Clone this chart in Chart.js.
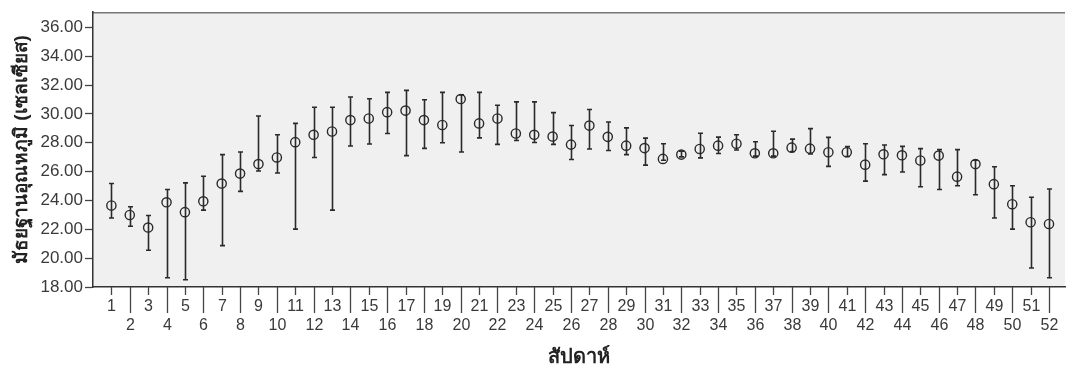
<!DOCTYPE html>
<html>
<head>
<meta charset="utf-8">
<script src="https://cdn.jsdelivr.net/npm/chart.js@4.4.1/dist/chart.umd.min.js"></script>
<style>
  html, body { margin: 0; padding: 0; background: #fff; }
  #wrap { position: relative; width: 1071px; height: 369px; }
</style>
</head>
<body>
<div id="wrap"><canvas id="myChart"></canvas></div>
<script>
// weekly median temperature with its range
const weeks = [1, 2, 3, 4, 5, 6, 7, 8, 9, 10, 11, 12, 13, 14, 15, 16, 17, 18, 19, 20, 21, 22, 23, 24, 25, 26,
  27, 28, 29, 30, 31, 32, 33, 34, 35, 36, 37, 38, 39, 40, 41, 42, 43, 44, 45, 46, 47, 48, 49, 50, 51, 52];

const medians = [23.65, 22.99, 22.12, 23.87, 23.19, 23.94, 25.17, 25.86, 26.52, 26.98, 28.04, 28.55, 28.78,
  29.57, 29.68, 30.12, 30.23, 29.57, 29.23, 31.03, 29.34, 29.68, 28.64, 28.55, 28.43, 27.87,
  29.19, 28.41, 27.80, 27.63, 26.88, 27.18, 27.57, 27.80, 27.93, 27.27, 27.27, 27.66, 27.59,
  27.34, 27.34, 26.48, 27.20, 27.13, 26.77, 27.11, 25.65, 26.52, 25.13, 23.74, 22.49, 22.37];

const upperValues = [25.17, 23.56, 22.96, 24.76, 25.22, 25.68, 27.18, 27.36, 29.85, 28.55, 29.34, 30.46, 30.46,
  31.17, 31.05, 31.49, 31.63, 30.98, 31.49, 31.32, 31.49, 30.60, 30.83, 30.83, 30.09, 29.20,
  30.30, 29.44, 29.03, 28.32, 27.93, 27.41, 28.66, 28.39, 28.55, 28.07, 28.80, 28.25, 28.98,
  28.37, 27.73, 27.93, 27.84, 27.75, 27.59, 27.52, 27.52, 26.79, 26.34, 25.02, 24.22, 24.79];

const lowerValues = [22.78, 22.21, 20.55, 18.64, 18.50, 23.33, 20.87, 24.63, 26.04, 25.90, 22.01, 26.98, 23.33,
  27.77, 27.91, 28.64, 27.11, 27.61, 28.00, 27.36, 28.34, 27.89, 28.16, 28.02, 27.89, 26.84,
  27.57, 27.46, 27.18, 26.45, 26.79, 27.02, 26.95, 27.25, 27.50, 27.07, 27.07, 27.39, 27.22,
  26.36, 27.05, 25.34, 25.79, 25.97, 24.95, 24.76, 25.02, 24.40, 22.78, 22.01, 19.32, 18.64];

const yMin = 18;
const yMax = 37.05;
const yStep = 2;

const yTitle = "มัธยฐานอุณหภูมิ (เซลเซียส)";
const xTitle = "สัปดาห์";

const fontFamily = "'Liberation Sans', Arial, 'Noto Sans', sans-serif";
const inkColor = "#3a3a3a";

// grey plot background and top border
const plotBackground = {
  id: "plotBackground",
  beforeDraw(chart) {
    const { ctx, chartArea } = chart;
    ctx.save();
    ctx.fillStyle = "#f0f0f0";
    ctx.fillRect(chartArea.left, chartArea.top, chartArea.right - chartArea.left, chartArea.bottom - chartArea.top);
    ctx.strokeStyle = "#777";
    ctx.lineWidth = 1.5;
    ctx.beginPath();
    ctx.moveTo(chartArea.left, chartArea.top + 0.5);
    ctx.lineTo(chartArea.right, chartArea.top + 0.5);
    ctx.stroke();
    ctx.restore();
  }
};

// vertical range bars with small caps
const errorBars = {
  id: "errorBars",
  beforeDatasetsDraw(chart) {
    const { ctx, scales } = chart;
    ctx.save();
    ctx.strokeStyle = "#2a2a2a";
    ctx.lineWidth = 1.6;
    weeks.forEach((w, i) => {
      const x = Math.round(scales.x.getPixelForValue(w)) + 0.5;
      const yTop = scales.y.getPixelForValue(upperValues[i]);
      const yBot = scales.y.getPixelForValue(lowerValues[i]);
      ctx.beginPath();
      ctx.moveTo(x, yTop);
      ctx.lineTo(x, yBot);
      ctx.moveTo(x - 2.5, yTop);
      ctx.lineTo(x + 2.5, yTop);
      ctx.moveTo(x - 2.5, yBot);
      ctx.lineTo(x + 2.5, yBot);
      ctx.stroke();
    });
    ctx.restore();
  }
};

// week ticks: odd labels on the first row, even labels below with longer ticks
const weekAxis = {
  id: "weekAxis",
  afterDraw(chart) {
    const { ctx, scales, chartArea } = chart;
    const base = chartArea.bottom;
    ctx.save();
    ctx.strokeStyle = "#444";
    ctx.lineWidth = 1.3;
    ctx.fillStyle = inkColor;
    ctx.font = "16px " + fontFamily;
    ctx.textAlign = "center";
    ctx.textBaseline = "middle";
    weeks.forEach((w) => {
      const x = Math.round(scales.x.getPixelForValue(w)) + 0.5;
      const even = w % 2 === 0;
      ctx.beginPath();
      ctx.moveTo(x, base);
      ctx.lineTo(x, base + (even ? 26 : 8));
      ctx.stroke();
      ctx.fillText(String(w), x, base + (even ? 39 : 20));
    });
    ctx.restore();
  }
};

new Chart(document.getElementById("myChart"), {
  type: "scatter",
  data: {
    datasets: [{
      data: weeks.map((w, i) => ({ x: w, y: medians[i] })),
      pointStyle: "circle",
      pointRadius: 4.6,
      pointHoverRadius: 4.6,
      pointBorderWidth: 1.4,
      pointBorderColor: "#2a2a2a",
      pointBackgroundColor: "rgba(0,0,0,0)",
      showLine: false
    }]
  },
  options: {
    responsive: true,
    maintainAspectRatio: false,
    animation: false,
    layout: { padding: { top: 8, right: 0, left: 0, bottom: 0 } },
    plugins: {
      legend: { display: false },
      tooltip: { enabled: false }
    },
    scales: {
      x: {
        type: "linear",
        min: 0,
        max: 52.87,
        grid: { display: false, drawTicks: false },
        border: { display: true, color: "#333", width: 1.5 },
        ticks: { display: false },
        title: {
          display: true,
          text: xTitle,
          color: "#222",
          font: { family: fontFamily, size: 20, weight: "bold" },
          padding: { top: 0, bottom: 0 }
        },
        afterFit(scale) { scale.height = 82; }
      },
      y: {
        min: yMin,
        max: yMax,
        grid: { drawOnChartArea: false, tickLength: 8, color: "#444", tickWidth: 1.3 },
        border: { display: true, color: "#333", width: 1.5 },
        ticks: {
          stepSize: yStep,
          includeBounds: false,
          padding: 2,
          color: inkColor,
          font: { family: fontFamily, size: 17 },
          callback: (v) => Number(v).toFixed(2)
        },
        title: {
          display: true,
          text: yTitle,
          color: "#222",
          font: { family: fontFamily, size: 19, weight: "bold" },
          padding: { top: 10, bottom: 0 }
        },
        afterFit(scale) { scale.width = 93; }
      }
    }
  },
  plugins: [plotBackground, errorBars, weekAxis]
});
</script>
</body>
</html>
